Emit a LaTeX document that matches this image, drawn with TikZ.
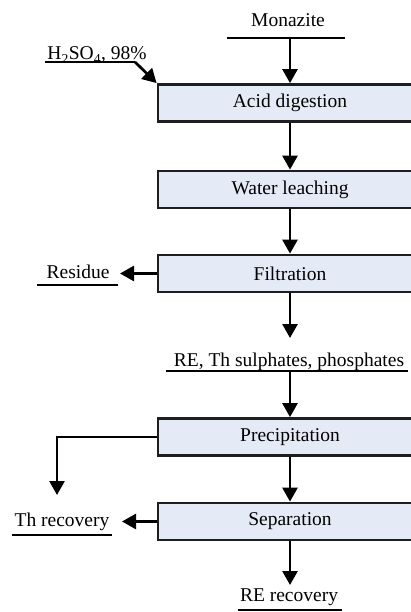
\documentclass[tikz,border=0pt]{standalone}
\usepackage{fontspec}
\setmainfont{Liberation Serif}
\usetikzlibrary{arrows.meta}
\definecolor{boxfill}{RGB}{229,235,246}
\definecolor{boxline}{RGB}{30,30,30}
\begin{document}
\begin{tikzpicture}[x=1pt,y=-1pt,
  proc/.style={draw=boxline,fill=boxfill,line width=2.8pt,minimum width=264pt,
    minimum height=37pt,inner sep=0pt,font=\fontsize{19.5}{22}\selectfont},
  lbl/.style={inner sep=0pt,font=\fontsize{19.5}{22}\selectfont},
  flow/.style={line width=2.7pt,-{Triangle[width=15pt,length=14pt]}},
  rule/.style={line width=2.4pt}]
\useasboundingbox (0,0) rectangle (410,612);

% process boxes
\node[proc] (acid)  at (290,103)   {Acid digestion};
\node[proc] (water) at (290,189.5) {Water leaching};
\node[proc] (filt)  at (290,273.5) {Filtration};
\node[proc] (prec)  at (290,437)   {Precipitation};
\node[proc] (sep)   at (290,521.5) {Separation};

% stream labels
\node[lbl] (mon)  at (288,20)  {Monazite};
\node[lbl] (acidin) at (97,55) {H\textsubscript{2}SO\textsubscript{4}, 98\%};
\node[lbl] (res)  at (78,272)  {Residue};
\node[lbl] (sol)  at (289,362) {RE, Th sulphates, phosphates};
\node[lbl] (th)   at (62,522)  {Th recovery};
\node[lbl] (re)   at (289,597) {RE recovery};

% underline ends
\coordinate (monL) at (227,38);  \coordinate (monR) at (345,38);
\coordinate (monM) at (290,38);
\coordinate (acL)  at (45,62);   \coordinate (acR)  at (135,62);
\coordinate (resL) at (37,285);  \coordinate (resR) at (118,285);
\coordinate (resT) at (120,273.5);
\coordinate (solL) at (166,371); \coordinate (solR) at (408,371);
\coordinate (solM) at (290,371); \coordinate (solT) at (290,338);
\coordinate (thL)  at (12,535);  \coordinate (thR)  at (112,535);
\coordinate (thT)  at (122,521.5);
\coordinate (brk)  at (57,437);  \coordinate (brT)  at (57,495);
\coordinate (reL)  at (238,610); \coordinate (reR)  at (342,610);
\coordinate (reT)  at (290,585);

\draw[rule] (monL) -- (monR);
\draw[rule] (acL) -- (acR);
\draw[rule] (resL) -- (resR);
\draw[rule] (solL) -- (solR);
\draw[rule] (thL) -- (thR);
\draw[rule] (reL) -- (reR);

% flows
\draw[flow] (monM) -- (acid.north);
\draw[flow] (acR) -- (acid.north west);
\draw[flow] (acid) -- (water);
\draw[flow] (water) -- (filt);
\draw[flow] (filt.west) -- (resT);
\draw[flow] (filt.south) -- (solT);
\draw[flow] (solM) -- (prec.north);
\draw[flow] (prec.west) -- (brk) -- (brT);
\draw[flow] (prec) -- (sep);
\draw[flow] (sep.west) -- (thT);
\draw[flow] (sep.south) -- (reT);
\end{tikzpicture}
\end{document}
